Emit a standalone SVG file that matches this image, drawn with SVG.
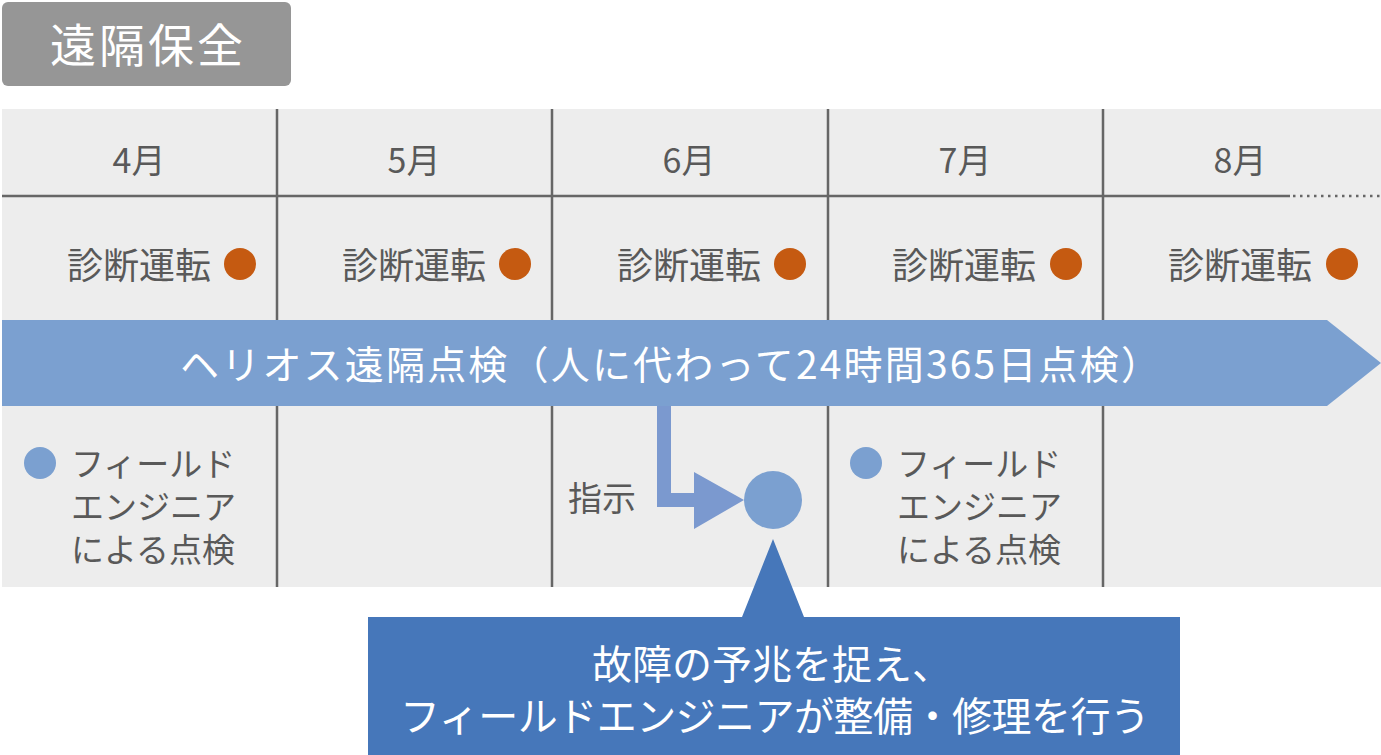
<svg xmlns="http://www.w3.org/2000/svg" width="1381" height="755" viewBox="0 0 1381 755">
<style>
.t{font-family:"Noto Sans CJK JP","Noto Sans",sans-serif;fill:#595959}
.w{font-family:"Noto Sans CJK JP","Noto Sans",sans-serif;fill:#ffffff}
.m{font-size:34px;text-anchor:middle}
.d{font-size:36px;text-anchor:end}
.f{font-size:33px}
.vl{stroke:#666666;stroke-width:2.5}
.od{fill:#C55A11}
.bd{fill:#7BA0D0}
</style>
<rect width="1381" height="755" fill="#ffffff"/>
<g id="title">
<rect x="2" y="2" width="289" height="84" rx="6" fill="#969696"/>
<text class="w" x="148" y="62" font-size="46" letter-spacing="3" text-anchor="middle">遠隔保全</text>
</g>
<g id="table">
<rect x="2" y="109" width="1379" height="478" fill="#EDEDED"/>
<line class="vl" x1="277" y1="109" x2="277" y2="587"/>
<line class="vl" x1="552" y1="109" x2="552" y2="587"/>
<line class="vl" x1="828" y1="109" x2="828" y2="587"/>
<line class="vl" x1="1103" y1="109" x2="1103" y2="587"/>
<line class="vl" x1="2" y1="196" x2="1290" y2="196"/>
<line x1="1293" y1="196" x2="1381" y2="196" stroke="#666666" stroke-width="2.5" stroke-dasharray="2.5 4.5"/>
</g>
<g id="months">
<text class="t m" x="139" y="173">4月</text>
<text class="t m" x="414" y="173">5月</text>
<text class="t m" x="689" y="173">6月</text>
<text class="t m" x="965" y="173">7月</text>
<text class="t m" x="1240" y="173">8月</text>
</g>
<g id="diag">
<text class="t d" x="211" y="279">診断運転</text><circle class="od" cx="240" cy="264" r="16"/>
<text class="t d" x="486" y="279">診断運転</text><circle class="od" cx="515" cy="264" r="16"/>
<text class="t d" x="761" y="279">診断運転</text><circle class="od" cx="790" cy="264" r="16"/>
<text class="t d" x="1036" y="279">診断運転</text><circle class="od" cx="1066" cy="264" r="16"/>
<text class="t d" x="1312" y="279">診断運転</text><circle class="od" cx="1342" cy="264" r="16"/>
</g>
<g id="band">
<polygon points="2,320 1327,320 1381,363 1327,406 2,406" fill="#7BA0D0"/>
<text class="w" x="180" y="379" font-size="39" textLength="980" lengthAdjust="spacing">ヘリオス遠隔点検（人に代わって24時間365日点検）</text>
</g>
<g id="field1">
<circle class="bd" cx="40" cy="463" r="16"/>
<text class="t f" x="71" y="476">フィールド</text>
<text class="t f" x="71" y="519">エンジニア</text>
<text class="t f" x="71" y="562">による点検</text>
</g>
<g id="field2">
<circle class="bd" cx="866" cy="463" r="16"/>
<text class="t f" x="897" y="476">フィールド</text>
<text class="t f" x="897" y="519">エンジニア</text>
<text class="t f" x="897" y="562">による点検</text>
</g>
<g id="connectors">
<polygon points="657,406 671,406 671,493 694,493 694,472 744,500 694,529 694,507 657,507" fill="#7B99CF"/>
<text class="t" x="568" y="511" font-size="34">指示</text>
</g>
<g id="event">
<circle cx="773" cy="500" r="29" fill="#7BA0D0"/>
</g>
<g id="callout">
<polygon points="773,539 804,617 1180,617 1180,755 368,755 368,617 742,617" fill="#4677BA"/>
<text class="w" x="772" y="679" font-size="40" text-anchor="middle">故障の予兆を捉え、</text>
<text class="w" x="400" y="731" font-size="40" textLength="750" lengthAdjust="spacing">フィールドエンジニアが整備・修理を行う</text>
</g>
</svg>
